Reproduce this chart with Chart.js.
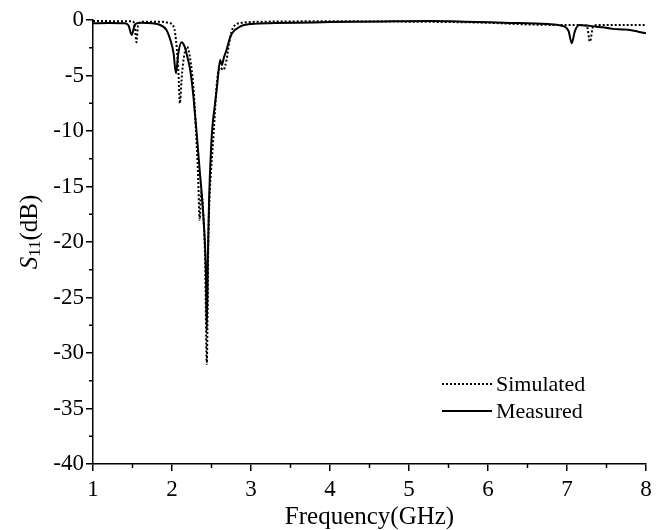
<!DOCTYPE html>
<html>
<head>
<meta charset="utf-8">
<script src="https://cdn.jsdelivr.net/npm/chart.js"></script>
<style>
  html, body { margin: 0; padding: 0; background: #fff; }
  #wrap { width: 664px; height: 530px; position: relative; }
</style>
</head>
<body>
<div id="wrap"><canvas id="s11Chart"></canvas></div>
<script>
// Simulated S11 (dotted)
const simFreq = [1.00, 1.50, 1.53, 1.55, 1.57, 1.62, 1.85, 1.95, 2.00, 2.04, 2.08, 2.10, 2.12, 2.14, 2.19, 2.23, 2.27, 2.30, 2.33, 2.35, 2.37, 2.40, 2.42, 2.44, 2.46, 2.47, 2.49, 2.51, 2.54, 2.57, 2.61, 2.65, 2.69, 2.73, 2.78, 2.90, 3.2, 4.0, 5.0, 6.0, 6.5, 7.0, 7.25, 7.29, 7.33, 7.4, 8.0];
const simDb = [-0.1, -0.12, -0.6, -2.0, -0.5, -0.15, -0.15, -0.25, -0.4, -1.2, -4.5, -7.5, -5.5, -3.9, -2.4, -3.5, -6, -9.5, -14, -18, -15.5, -18, -22, -31, -20, -17, -14, -12, -8.7, -5.5, -4.3, -4.5, -3.6, -1.8, -0.6, -0.24, -0.15, -0.12, -0.15, -0.25, -0.4, -0.45, -0.5, -1.95, -0.6, -0.45, -0.45];

// Measured S11 (solid)
const measFreq = [1.00, 1.20, 1.40, 1.45, 1.49, 1.53, 1.60, 1.75, 1.85, 1.93, 1.98, 2.02, 2.05, 2.08, 2.12, 2.16, 2.20, 2.23, 2.27, 2.29, 2.31, 2.35, 2.40, 2.43, 2.44, 2.455, 2.47, 2.50, 2.52, 2.54, 2.57, 2.61, 2.63, 2.66, 2.69, 2.73, 2.76, 2.86, 3.0, 3.3, 3.8, 4.3, 4.8, 5.27, 5.7, 6.2, 6.75, 6.95, 7.02, 7.06, 7.10, 7.16, 7.25, 7.37, 7.45, 7.58, 7.7, 7.8, 7.9, 8.0];
const measDb = [-0.3, -0.28, -0.3, -0.5, -1.35, -0.4, -0.25, -0.3, -0.45, -0.9, -1.8, -3.0, -4.8, -3.0, -2.0, -2.4, -3.5, -4.5, -6.8, -8.4, -10, -13.5, -18, -23, -28, -21, -16, -10.8, -9, -7.8, -6, -3.6, -4.05, -3.3, -2.7, -1.7, -1.2, -0.6, -0.36, -0.28, -0.22, -0.15, -0.12, -0.1, -0.15, -0.25, -0.36, -0.55, -1.0, -2.1, -1.0, -0.45, -0.5, -0.6, -0.65, -0.8, -0.85, -0.9, -1.05, -1.2];

const seriesNames = ['Simulated', 'Measured'];
const xTicks = [1, 2, 3, 4, 5, 6, 7, 8];
const yTicks = [-40, -35, -30, -25, -20, -15, -10, -5, 0];

const serif = "'Liberation Serif', 'Times New Roman', serif";

function toPoints(xs, ys) {
    return xs.map((x, i) => ({ x: x, y: ys[i] }));
}

// minor ticks, y title with subscript, and legend
const decorPlugin = {
    id: 'decor',
    afterDraw(chart) {
        const ctx = chart.ctx;
        const area = chart.chartArea;
        const xs = chart.scales.x;
        const ys = chart.scales.y;
        ctx.save();
        ctx.strokeStyle = '#000';
        ctx.lineWidth = 1.5;

        // minor ticks
        for (let i = 0; i < xTicks.length - 1; i++) {
            const px = xs.getPixelForValue((xTicks[i] + xTicks[i + 1]) / 2);
            ctx.beginPath();
            ctx.moveTo(px, area.bottom);
            ctx.lineTo(px, area.bottom + 4);
            ctx.stroke();
        }
        for (let i = 0; i < yTicks.length - 1; i++) {
            const py = ys.getPixelForValue((yTicks[i] + yTicks[i + 1]) / 2);
            ctx.beginPath();
            ctx.moveTo(area.left - 4, py);
            ctx.lineTo(area.left, py);
            ctx.stroke();
        }

        // y axis title: S11(dB)
        ctx.fillStyle = '#000';
        ctx.translate(30, 232);
        ctx.rotate(-Math.PI / 2);
        ctx.textBaseline = 'middle';
        const parts = [
            { t: 'S', f: 'italic 25px ' + serif, dy: 0 },
            { t: '11', f: '17px ' + serif, dy: 6 },
            { t: '(dB)', f: '25px ' + serif, dy: 0 }
        ];
        let total = 0;
        parts.forEach(p => { ctx.font = p.f; total += ctx.measureText(p.t).width; });
        let cx = -total / 2;
        parts.forEach(p => {
            ctx.font = p.f;
            ctx.textAlign = 'left';
            ctx.fillText(p.t, cx, p.dy);
            cx += ctx.measureText(p.t).width;
        });
        ctx.restore();

        // legend
        ctx.save();
        ctx.fillStyle = '#000';
        ctx.strokeStyle = '#000';
        ctx.font = '22px ' + serif;
        ctx.textBaseline = 'middle';
        ctx.textAlign = 'left';
        const lx0 = 442, lx1 = 492;
        const rows = [384, 411];
        chart.data.datasets.forEach((ds, i) => {
            ctx.lineWidth = ds.borderWidth;
            ctx.setLineDash(ds.borderDash || []);
            ctx.beginPath();
            ctx.moveTo(lx0, rows[i]);
            ctx.lineTo(lx1, rows[i]);
            ctx.stroke();
            ctx.setLineDash([]);
            ctx.fillText(ds.label, lx1 + 4, rows[i] + 1);
        });
        ctx.restore();
    }
};

new Chart(document.getElementById('s11Chart').getContext('2d'), {
    type: 'line',
    data: {
        datasets: [
            {
                label: seriesNames[0],
                data: toPoints(simFreq, simDb),
                borderColor: '#000',
                borderWidth: 2,
                borderDash: [2, 2],
                pointRadius: 0,
                fill: false,
                cubicInterpolationMode: 'monotone'
            },
            {
                label: seriesNames[1],
                data: toPoints(measFreq, measDb),
                borderColor: '#000',
                borderWidth: 2,
                pointRadius: 0,
                fill: false,
                cubicInterpolationMode: 'monotone'
            }
        ]
    },
    options: {
        responsive: true,
        maintainAspectRatio: false,
        animation: false,
        layout: { padding: { left: 0, right: 18, top: 20, bottom: 0 } },
        plugins: {
            legend: { display: false },
            tooltip: { enabled: false }
        },
        scales: {
            x: {
                type: 'linear',
                min: 1,
                max: 8,
                afterBuildTicks: (scale) => { scale.ticks = xTicks.map(v => ({ value: v })); },
                afterFit: (scale) => { scale.height = 66; },
                grid: { drawOnChartArea: false, tickLength: 7, color: '#000', lineWidth: 1.5 },
                border: { color: '#000', width: 1.5 },
                ticks: {
                    color: '#000',
                    padding: 5,
                    maxRotation: 0,
                    font: { family: serif, size: 23 }
                },
                title: {
                    display: true,
                    text: 'Frequency(GHz)',
                    color: '#000',
                    padding: { top: 0, bottom: -2 },
                    font: { family: serif, size: 25 }
                }
            },
            y: {
                min: -40,
                max: 0,
                afterBuildTicks: (scale) => { scale.ticks = yTicks.map(v => ({ value: v })); },
                afterFit: (scale) => { scale.width = 93; },
                grid: { drawOnChartArea: false, tickLength: 7, color: '#000', lineWidth: 1.5 },
                border: { color: '#000', width: 1.5 },
                ticks: {
                    color: '#000',
                    padding: 2,
                    font: { family: serif, size: 23 }
                }
            }
        }
    },
    plugins: [decorPlugin]
});
</script>
</body>
</html>
